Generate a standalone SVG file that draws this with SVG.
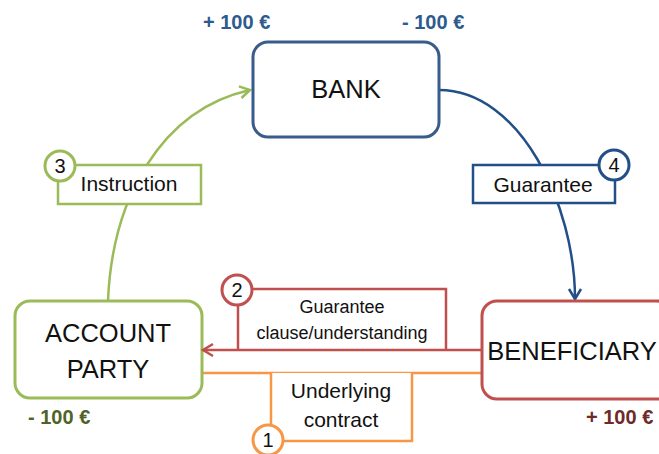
<svg xmlns="http://www.w3.org/2000/svg" width="659" height="454" viewBox="0 0 659 454">
  <style>
    text { font-family: "Liberation Sans", Arial, sans-serif; fill: #111; }
    .node { fill: #fff; stroke-width: 3; }
    .big { font-size: 25.5px; text-anchor: middle; }
    .lbl { font-size: 21px; text-anchor: middle; }
    .small { font-size: 18px; text-anchor: middle; }
    .num { font-size: 20px; text-anchor: middle; }
    .money { font-size: 20px; font-weight: bold; }
    .conn { fill: none; stroke-width: 2.5; }
    .tag { fill: #fff; stroke-width: 2.5; }
    .badge { fill: #fff; stroke-width: 3; }
    .green { stroke: #9BBB59; }
    .blue { stroke: #385D8A; }
    .blueline { stroke: #234F88; }
    .red { stroke: #C0504D; }
    .orange { stroke: #F79646; }
  </style>
  <defs>
    <marker id="arrowGreen" markerUnits="userSpaceOnUse" markerWidth="16" markerHeight="16" viewBox="-12 -8 14 16" refX="0" refY="0" orient="auto">
      <path d="M-10,-6 L0,0 L-10,6" fill="none" stroke="#9BBB59" stroke-width="2.5"/>
    </marker>
    <marker id="arrowBlue" markerUnits="userSpaceOnUse" markerWidth="16" markerHeight="16" viewBox="-12 -8 14 16" refX="0" refY="0" orient="auto">
      <path d="M-10,-6 L0,0 L-10,6" fill="none" stroke="#234F88" stroke-width="2.5"/>
    </marker>
    <marker id="arrowRed" markerUnits="userSpaceOnUse" markerWidth="16" markerHeight="16" viewBox="-12 -8 14 16" refX="0" refY="0" orient="auto">
      <path d="M-10,-6 L0,0 L-10,6" fill="none" stroke="#C0504D" stroke-width="2.5"/>
    </marker>
  </defs>

  <!-- connectors -->
  <g id="connectors">
    <path class="conn green" d="M108,301 C112,200 160,110 250,90" marker-end="url(#arrowGreen)"/>
    <path class="conn blueline" d="M439,90 C520,90 575,205 575,299" marker-end="url(#arrowBlue)"/>
    <path class="conn orange" d="M202,373 L482,373"/>
  </g>

  <!-- nodes -->
  <g id="bank">
    <rect class="node blue" x="253" y="42" width="186" height="95" rx="15"/>
    <text class="big" x="346" y="98">BANK</text>
  </g>
  <g id="account-party">
    <rect class="node green" x="15" y="301" width="187" height="97" rx="15"/>
    <text class="big" x="108" y="342">ACCOUNT</text>
    <text class="big" x="108" y="378">PARTY</text>
  </g>
  <g id="beneficiary">
    <rect class="node red" x="482" y="301" width="190" height="98" rx="15"/>
    <text class="big" x="572" y="360">BENEFICIARY</text>
  </g>

  <!-- step labels -->
  <g id="step-instruction">
    <rect class="tag green" x="58" y="165" width="143" height="39"/>
    <text class="lbl" x="129" y="191">Instruction</text>
    <circle class="badge green" cx="60" cy="166" r="15"/>
    <text class="num" x="60" y="173">3</text>
  </g>
  <g id="step-guarantee">
    <rect class="tag blueline" x="473" y="165" width="142" height="38"/>
    <text class="lbl" x="543" y="192">Guarantee</text>
    <circle class="badge blueline" cx="614" cy="165" r="15"/>
    <text class="num" x="614" y="172">4</text>
  </g>
  <g id="step-clause">
    <path class="tag red" d="M238,350 L238,289 L446,289 L446,350"/>
    <path class="conn red" d="M482,350 L203,350" marker-end="url(#arrowRed)"/>
    <text class="small" x="342" y="313">Guarantee</text>
    <text class="small" x="342" y="339">clause/understanding</text>
    <circle class="badge red" cx="237" cy="290" r="15"/>
    <text class="num" x="237" y="297">2</text>
  </g>
  <g id="step-contract">
    <path class="tag orange" d="M271,373 L271,441 L412,441 L412,373"/>
    <text class="lbl" x="341" y="398">Underlying</text>
    <text class="lbl" x="341" y="427">contract</text>
    <circle class="badge orange" cx="268" cy="440" r="15"/>
    <text class="num" x="268" y="447">1</text>
  </g>

  <!-- balances -->
  <g id="balances">
    <text class="money" x="203" y="29" style="fill:#2D5B8E">+ 100 €</text>
    <text class="money" x="402" y="29" style="fill:#2D5B8E">- 100 €</text>
    <text class="money" x="28" y="424" style="fill:#4F6228">- 100 €</text>
    <text class="money" x="586" y="424" style="fill:#6E2A28">+ 100 €</text>
  </g>
</svg>
